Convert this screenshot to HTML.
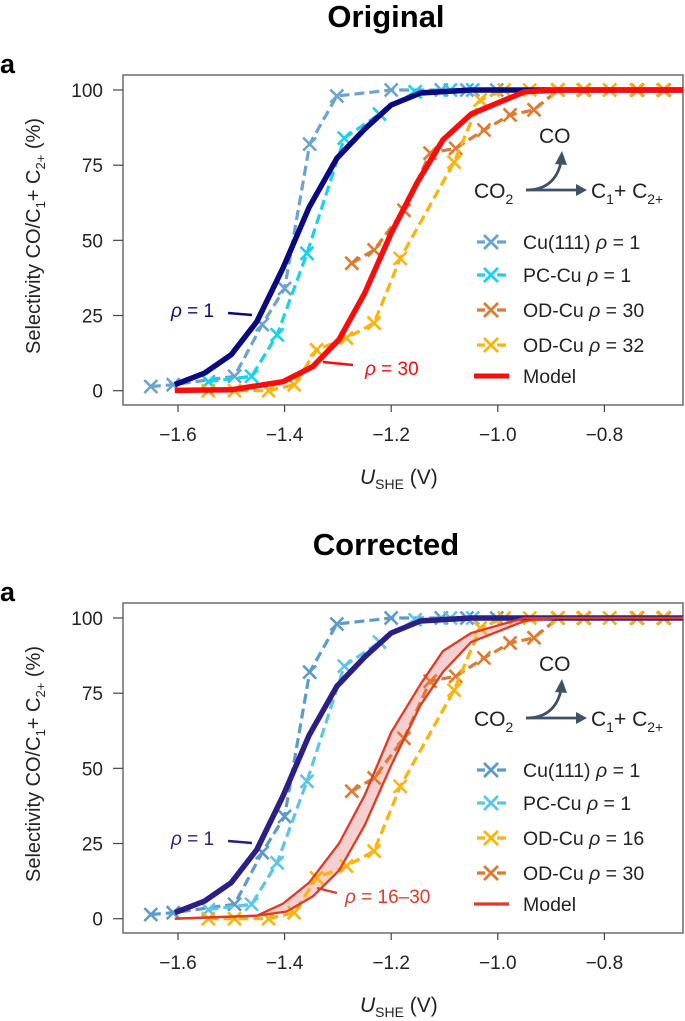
<!DOCTYPE html>
<html><head><meta charset="utf-8">
<style>
html,body{margin:0;padding:0;background:#fff;}
body{width:685px;height:1021px;overflow:hidden;font-family:"Liberation Sans","DejaVu Sans",sans-serif;}
svg{display:block;}
</style></head>
<body>
<svg id="fig" width="685" height="1021" viewBox="0 0 685 1021" xmlns="http://www.w3.org/2000/svg" font-family="Liberation Sans, DejaVu Sans, sans-serif"></svg>
<script>
// ---- data ----
const xTicks = [-1.6, -1.4, -1.2, -1.0, -0.8];
const xTickLabels = ["\u22121.6", "\u22121.4", "\u22121.2", "\u22121.0", "\u22120.8"];
const yTicks = [0, 25, 50, 75, 100];
const yTickLabels = ["0", "25", "50", "75", "100"];

const cu111U = [-1.651, -1.609, -1.494, -1.442, -1.40, -1.353, -1.302, -1.2, -1.106, -1.058, -1.002];
const cu111S = [1.4, 2, 4.8, 22, 34, 82, 98, 100, 100, 100, 100];
const pcU = [-1.543, -1.462, -1.414, -1.358, -1.288, -1.222, -1.155, -1.089, -1.047];
const pcS = [3, 4.8, 18.6, 45.7, 84, 92, 99.4, 100, 100];
const od30U = [-1.274, -1.232, -1.176, -1.127, -1.079, -1.026, -0.977, -0.932, -0.887, -0.838, -0.79, -0.738, -0.688];
const od30S = [42.4, 46.8, 60, 79, 80.6, 86.7, 91.7, 93.4, 100, 100, 100, 100, 100];
const od32U = [-1.543, -1.494, -1.43, -1.382, -1.34, -1.284, -1.232, -1.183, -1.082, -1.033, -0.988, -0.94, -0.888, -0.84, -0.79, -0.74, -0.69];
const od32S = [0, 0, 0, 2, 13.6, 17.5, 22.5, 44, 76, 96.7, 100, 100, 100, 100, 100, 100, 100];
const modelBlueU = [-1.606, -1.55, -1.5, -1.452, -1.403, -1.354, -1.302, -1.25, -1.2, -1.145, -1.05, -0.95, -0.8, -0.5];
const modelBlueS = [2, 5.9, 12, 23, 40.8, 61, 77.3, 87, 95, 99, 100, 100, 100, 100];
const modelRedU = [-1.606, -1.5, -1.403, -1.347, -1.298, -1.25, -1.2, -1.152, -1.103, -1.05, -0.95, -0.887, -0.5];
const modelRedS = [0.1, 0.3, 3, 8, 17, 32.4, 52.4, 69, 83.4, 92, 99.4, 100, 100];
const bandLoU = [-1.606, -1.452, -1.403, -1.354, -1.298, -1.25, -1.2, -1.145, -1.103, -1.05, -0.95, -0.5];
const bandLoS = [0, 1, 5, 12, 25, 41, 62, 78, 89, 95, 100, 100];
const bandHiU = [-1.606, -1.452, -1.396, -1.347, -1.298, -1.25, -1.2, -1.145, -1.103, -1.05, -0.95, -0.887, -0.5];
const bandHiS = [0, 1, 2.4, 7.4, 16, 31, 51, 71, 82, 92, 99, 100, 100];

const NS = "http://www.w3.org/2000/svg";
const svg = document.getElementById('fig');
function mk(tag, attrs, parent) {
  const e = document.createElementNS(NS, tag);
  for (const k in attrs) e.setAttribute(k, attrs[k]);
  (parent || svg).appendChild(e);
  return e;
}
function pathD(us, ss, X, Y) {
  return us.map((u, i) => (i ? 'L' : 'M') + X(u).toFixed(1) + ',' + Y(ss[i]).toFixed(1)).join(' ');
}

function drawChart(oy, corrected) {
  const X = u => 178 + (u + 1.6) / 0.2 * 106.6;
  const Y = s => oy + 390.7 - s * 3.007;
  const g = mk('g', {});
  
  

  const title = mk('text', {x: 386, y: oy + 27, 'text-anchor': 'middle', 'font-size': 31, 'font-weight': 'bold', fill: '#000'}, g);
  title.textContent = corrected ? 'Corrected' : 'Original';
  
  
  const a = mk('text', {x: 0, y: oy + 73, 'font-size': 27, 'font-weight': 'bold', fill: '#000'}, g);
  a.textContent = 'a';
  
  

  const cid = 'clip' + oy;
  const cp = mk('clipPath', {id: cid}, g);
  mk('rect', {x: 123, y: oy + 75, width: 560, height: 330}, cp);

  const frame = mk('rect', {x: 123, y: oy + 75, width: 560, height: 330, fill: 'none', stroke: '#555', 'stroke-width': 1.3}, g);
  
  

  yTicks.forEach((t, i) => {
    mk('line', {x1: 113, x2: 123, y1: Y(t), y2: Y(t), stroke: '#444', 'stroke-width': 1.2}, g);
    const tl = mk('text', {x: 103, y: Y(t) + 7, 'text-anchor': 'end', 'font-size': 19, fill: '#222'}, g);
    tl.textContent = yTickLabels[i];
    
    
  });
  xTicks.forEach((t, i) => {
    mk('line', {x1: X(t), x2: X(t), y1: oy + 405, y2: oy + 412, stroke: '#444', 'stroke-width': 1.2}, g);
    const tl = mk('text', {x: X(t), y: oy + 441, 'text-anchor': 'middle', 'font-size': 19, fill: '#222'}, g);
    tl.textContent = xTickLabels[i];
    
    
  });

  const yt = mk('text', {transform: `translate(40,${oy + 236}) rotate(-90)`, 'text-anchor': 'middle', 'font-size': 20, fill: '#222'}, g);
  yt.innerHTML = 'Selectivity CO/C<tspan font-size="13" dy="5">1</tspan><tspan dy="-5">+ C</tspan><tspan font-size="13" dy="5">2+</tspan><tspan dy="-5"> (%)</tspan>';
  
  
  const xt = mk('text', {x: 360, y: oy + 484, 'font-size': 21, fill: '#222'}, g);
  xt.innerHTML = '<tspan font-style="italic">U</tspan><tspan font-size="14" dy="5">SHE</tspan><tspan dy="-5"> (V)</tspan>';
  
  

  const pg = mk('g', {'clip-path': `url(#${cid})`}, g);
  const c111 = corrected ? '#5a9bcc' : '#6aa3d0';
  const cpc = corrected ? '#5cc6e6' : '#14d2f0';
  const cor = '#e07a2e', cye = '#ffb20a';
  const cblue = corrected ? '#2b1e84' : '#0a0a80';
  const cred = corrected ? '#e23a22' : '#ff0a0a';

  function series(us, ss, col, name) {
    const sg = mk('g', {}, pg);
    
    
    mk('path', {d: pathD(us, ss, X, Y), fill: 'none', stroke: col, 'stroke-width': 3.2, 'stroke-dasharray': '10,5'}, sg);
    us.forEach((u, i) => {
      const px = X(u), py = Y(ss[i]), r = 6.5;
      const m = mk('path', {d: `M${px - r},${py - r}L${px + r},${py + r}M${px - r},${py + r}L${px + r},${py - r}`, stroke: col, 'stroke-width': 2.6, fill: 'none'}, sg);
      
      
    });
  }
  if (corrected) {
    const band = mk('path', {d: pathD(bandLoU, bandLoS, X, Y) + ' ' + pathD(bandHiU.slice().reverse(), bandHiS.slice().reverse(), X, Y).replace('M', 'L') + ' Z', fill: '#f4c4c4', 'fill-opacity': 0.8, stroke: 'none'}, pg);
    
    
  }
  series(cu111U, cu111S, c111, 'series-cu111');
  series(pcU, pcS, cpc, 'series-pc-cu');
  series(od30U, od30S, cor, 'series-od-cu-30');
  series(od32U, od32S, cye, corrected ? 'series-od-cu-16' : 'series-od-cu-32');
  const mb = mk('path', {d: pathD(modelBlueU, modelBlueS, X, Y), fill: 'none', stroke: cblue, 'stroke-width': 5.5, 'stroke-linejoin': 'round'}, pg);
  
  
  if (corrected) {
    const l1 = mk('path', {d: pathD(bandLoU, bandLoS, X, Y), fill: 'none', stroke: cred, 'stroke-width': 2.3}, pg);
    
    
    const l2 = mk('path', {d: pathD(bandHiU, bandHiS, X, Y), fill: 'none', stroke: cred, 'stroke-width': 2.3}, pg);
    
    
  } else {
    const mr = mk('path', {d: pathD(modelRedU, modelRedS, X, Y), fill: 'none', stroke: cred, 'stroke-width': 5.5, 'stroke-linejoin': 'round'}, pg);
    
    
  }

  // annotations
  const a1 = mk('text', {x: 171, y: oy + 317, 'font-size': 19, fill: cblue}, g);
  a1.innerHTML = '<tspan font-style="italic">ρ</tspan> = 1';
  
  
  mk('path', {d: `M228,${oy + 313} L252,${oy + 315}`, stroke: cblue, 'stroke-width': 2.5}, g);
  const a2 = mk('text', {x: corrected ? 345 : 365, y: oy + 375, 'font-size': 19, fill: cred}, g);
  a2.innerHTML = corrected ? '<tspan font-style="italic">ρ</tspan> = 16–30' : '<tspan font-style="italic">ρ</tspan> = 30';
  
  
  if (corrected) mk('path', {d: `M317,${oy + 360} L337,${oy + 365}`, stroke: cred, 'stroke-width': 2.2}, g);
  else mk('path', {d: `M323,${oy + 362} L353,${oy + 365}`, stroke: cred, 'stroke-width': 2.5}, g);

  // scheme
  const sch = mk('g', {}, g);
  
  
  const tco = mk('text', {x: 539, y: oy + 143, 'font-size': 21, fill: '#222'}, sch); tco.textContent = 'CO';
  const tco2 = mk('text', {x: 474, y: oy + 198, 'font-size': 21, fill: '#222'}, sch);
  tco2.innerHTML = 'CO<tspan font-size="14" dy="6">2</tspan>';
  const tc = mk('text', {x: 591, y: oy + 198, 'font-size': 21, fill: '#222'}, sch);
  tc.innerHTML = 'C<tspan font-size="14" dy="6">1</tspan><tspan dy="-6">+ C</tspan><tspan font-size="14" dy="6">2+</tspan>';
  mk('path', {d: `M526,${oy + 190} Q555,${oy + 190} 561,${oy + 162}`, fill: 'none', stroke: '#3d5266', 'stroke-width': 2.8}, sch);
  mk('path', {d: `M555,${oy + 164} L562,${oy + 151} L567,${oy + 165} Z`, fill: '#3d5266'}, sch);
  mk('path', {d: `M526,${oy + 190} L582,${oy + 190}`, stroke: '#3d5266', 'stroke-width': 2.8}, sch);
  mk('path', {d: `M576,${oy + 184} L587,${oy + 190} L576,${oy + 196} Z`, fill: '#3d5266'}, sch);

  // legend
  const names = corrected
    ? [['Cu(111) ', '1', c111, 1], ['PC-Cu ', '1', cpc, 1], ['OD-Cu ', '16', cye, 1], ['OD-Cu ', '30', cor, 1], ['Model', null, cred, 0]]
    : [['Cu(111) ', '1', c111, 1], ['PC-Cu ', '1', cpc, 1], ['OD-Cu ', '30', cor, 1], ['OD-Cu ', '32', cye, 1], ['Model', null, cred, 0]];
  const rowsY = [242, 275, 310, 345, 376];
  const lg = mk('g', {}, g);
  
  
  names.forEach((n, i) => {
    const ly = oy + rowsY[i];
    const e = mk('g', {}, lg);
    
    
    if (n[3]) {
      mk('path', {d: `M506,${ly} L497,${ly} M485,${ly} L477,${ly}`, stroke: n[2], 'stroke-width': 3.2}, e);
      mk('path', {d: `M484,${ly - 7}L498,${ly + 7}M484,${ly + 7}L498,${ly - 7}`, stroke: n[2], 'stroke-width': 2.8}, e);
    } else {
      mk('path', {d: `M474,${ly} L509,${ly}`, stroke: n[2], 'stroke-width': corrected ? 3.2 : 5}, e);
    }
    const t = mk('text', {x: 523, y: ly + 7, 'font-size': 19.5, fill: '#222'}, e);
    t.innerHTML = n[1] ? n[0] + '<tspan font-style="italic">ρ</tspan> = ' + n[1] : n[0];
  });
}
drawChart(0, false);
drawChart(528, true);
</script>
</body></html>
